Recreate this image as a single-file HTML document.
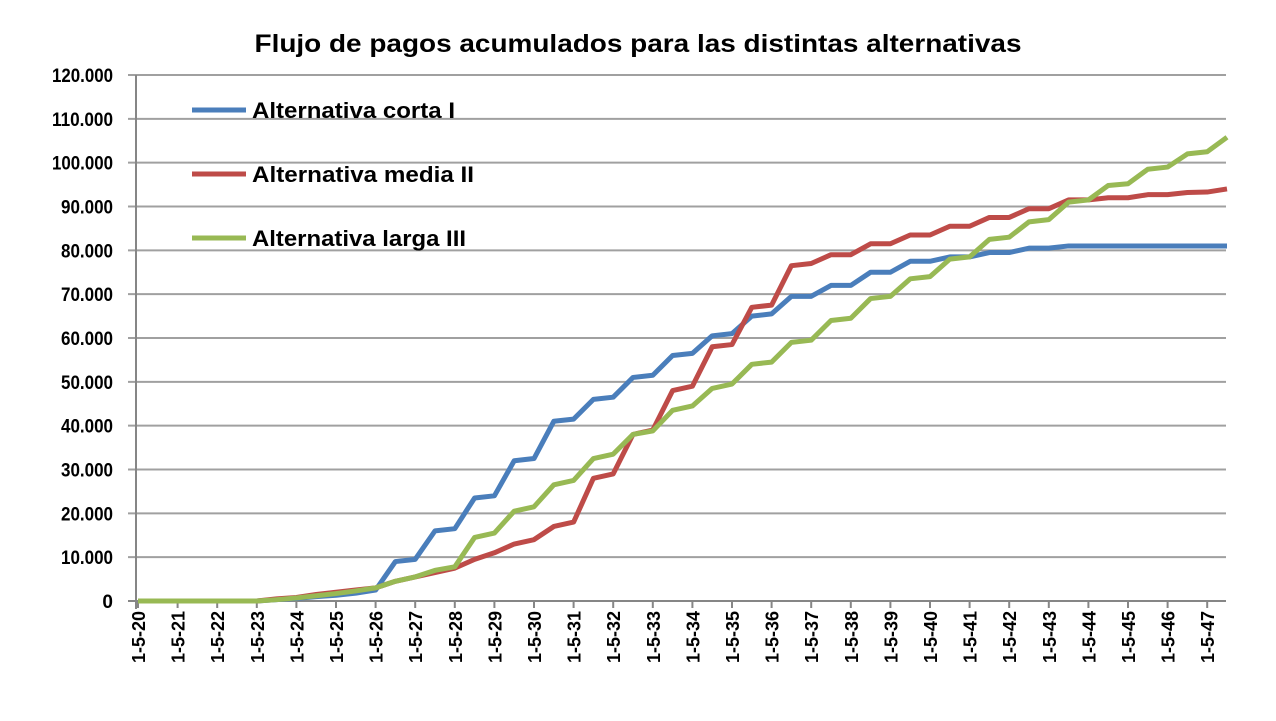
<!DOCTYPE html>
<html><head><meta charset="utf-8"><style>
body{margin:0;background:#fff;}
svg text{font-family:"Liberation Sans",Arial,sans-serif;font-weight:bold;fill:#000;}
</style></head><body>
<svg id="chart" width="1276" height="716" viewBox="0 0 1276 716">
<text x="638" y="52" font-size="25" text-anchor="middle" textLength="767" lengthAdjust="spacingAndGlyphs">Flujo de pagos acumulados para las distintas alternativas</text>
<g id="grid"></g><g id="yticks"></g><g id="xticks"></g><g id="series"></g>
<g id="legend"></g>
</svg>
<script>
const years=[20,21,22,23,24,25,26,27,28,29,30,31,32,33,34,35,36,37,38,39,40,41,42,43,44,45,46,47];
const yTicks=[0,10000,20000,30000,40000,50000,60000,70000,80000,90000,100000,110000,120000];
const seriesNames=["Alternativa corta I","Alternativa media II","Alternativa larga III"];
const corta=[0,0,0,0,0,0,0,300,600,1000,1300,1800,2500,9000,9500,16000,16500,23500,24000,32000,32500,41000,41500,46000,46500,51000,51500,56000,56500,60500,61000,65000,65500,69500,69500,72000,72000,75000,75000,77500,77500,78500,78500,79500,79500,80500,80500,81000,81000,81000,81000,81000,81000,81000,81000,81000];
const media=[0,0,0,0,0,0,0,500,800,1500,2000,2500,3000,4500,5500,6500,7500,9500,11000,13000,14000,17000,18000,28000,29000,38000,39000,48000,49000,58000,58500,67000,67500,76500,77000,79000,79000,81500,81500,83500,83500,85500,85500,87500,87500,89500,89500,91500,91500,92000,92000,92700,92700,93200,93300,94000];
const larga=[0,0,0,0,0,0,0,300,700,1200,1700,2300,3000,4500,5500,7000,7800,14500,15500,20500,21500,26500,27500,32500,33500,38000,38800,43500,44500,48500,49500,54000,54500,59000,59500,64000,64500,69000,69500,73500,74000,78000,78500,82500,83000,86500,87000,91000,91500,94800,95200,98500,99000,102000,102500,105800];
const colors=["#4a7ebb","#be4b48","#98b954"];
const NS="http://www.w3.org/2000/svg";
const X0=138,STEP=19.8,Y0=601,Y1=75,YMAX=120000,XR=1226;
const xs=i=>X0+STEP*i, ys=v=>Y0-(Y0-Y1)*v/YMAX;
function mk(t,a,p){const e=document.createElementNS(NS,t);for(const k in a)e.setAttribute(k,a[k]);p.appendChild(e);return e;}
const grid=document.getElementById('grid'),yt=document.getElementById('yticks'),xt=document.getElementById('xticks'),sg=document.getElementById('series'),lg=document.getElementById('legend');
yTicks.forEach(v=>{
 const l=mk('line',{x1:128,x2:XR,y1:ys(v),y2:ys(v),stroke:v===0?'#868686':'#a0a0a0','stroke-width':2},grid);
 
 
 const t=mk('text',{x:113,y:ys(v)+7,'font-size':19,'text-anchor':'end'},yt);
 t.textContent=v===0?'0':v.toLocaleString('de-DE');
 if(v>=100000){t.setAttribute('textLength',61);t.setAttribute('lengthAdjust','spacingAndGlyphs');}
 else if(v>0){t.setAttribute('textLength',52);t.setAttribute('lengthAdjust','spacingAndGlyphs');}
 
 
});
const ax=mk('line',{x1:X0-2,x2:X0-2,y1:Y1,y2:Y0+8,stroke:'#868686','stroke-width':2},grid);


years.forEach((y,k)=>{
 const x=xs(k*2);
 const tk=mk('line',{x1:x,x2:x,y1:Y0,y2:Y0+7,stroke:'#868686','stroke-width':2},xt);
 
 
 const t=mk('text',{x:0,y:0,'font-size':18,'text-anchor':'end',transform:`translate(${x+7},${Y0+10}) rotate(-90)`},xt);
 t.textContent='1-5-'+y;
 
 
});
const lens=[203,222,214];
[corta,media,larga].forEach((d,s)=>{
 const p=mk('polyline',{points:d.map((v,i)=>xs(i)+','+ys(v)).join(' '),fill:'none',stroke:colors[s],'stroke-width':5,'stroke-linejoin':'round'},sg);
 
 
 const ly=110+64*s;
 const ll=mk('line',{x1:192,x2:246,y1:ly,y2:ly,stroke:colors[s],'stroke-width':5},lg);
 
 
 const lt=mk('text',{x:252,y:ly+8,'font-size':22,textLength:lens[s],lengthAdjust:'spacingAndGlyphs'},lg);
 lt.textContent=seriesNames[s];
 
 
});
</script>
</body></html>
